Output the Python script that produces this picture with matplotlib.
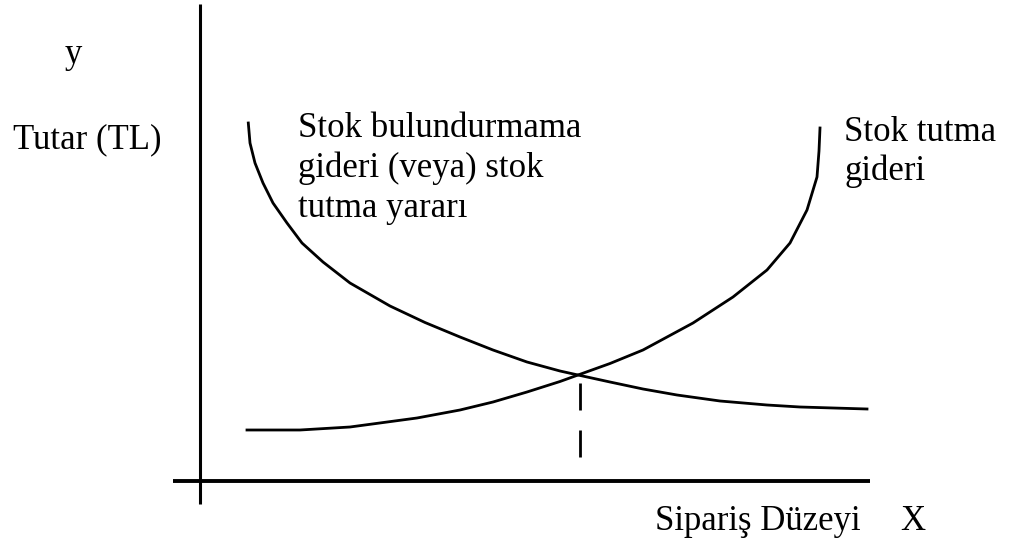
import matplotlib
matplotlib.use("Agg")
import matplotlib.pyplot as plt

plt.rcParams['font.family'] = ['Liberation Serif', 'DejaVu Serif']

# stok bulundurmama gideri (decreasing curve)
dec_x = [4.83, 5.0, 5.5, 6.3, 7.3, 8.7, 10.2, 12.3, 15.0, 19.0, 22.5, 26.0, 29.3,
         32.7, 36.0, 37.8, 41.0, 44.3, 47.7, 52.0, 56.7, 60.0, 66.7]
dec_y = [35.8, 33.8, 31.8, 29.8, 27.8, 25.8, 23.8, 21.9, 19.8, 17.5, 15.85, 14.4, 13.1,
         11.9, 11.0, 10.6, 9.9, 9.2, 8.6, 8.0, 7.6, 7.4, 7.2]

# stok tutma gideri (increasing curve)
inc_x = [4.7, 10.0, 15.0, 21.7, 26.0, 29.3, 32.7, 36.0, 37.8, 41.0, 44.3,
         49.3, 53.3, 56.7, 59.0, 60.7, 61.7, 61.9, 62.0]
inc_y = [5.1, 5.1, 5.4, 6.3, 7.1, 7.9, 8.9, 9.95, 10.6, 11.75, 13.1,
         15.8, 18.4, 21.1, 23.8, 27.1, 30.4, 33.0, 35.3]

# optimum order level, dashed marker below the crossing
opt_x = 38.0
dash_top = [9.8, 5.1]
dash_bot = [7.1, 2.4]

left_label = ["Stok bulundurmama", "gideri (veya) stok", "tutma yararı"]
right_label = ["Stok tutma", "gideri"]

fig = plt.figure(figsize=(10.11, 5.53), dpi=100)
ax = fig.add_axes([0, 0, 1, 1])
ax.set_xlim(-20.0, 81.1)
ax.set_ylim(-7.2, 48.1)
ax.axis('off')

# axes drawn by hand like the scanned figure
ax.plot([0, 0], [-2.3, 47.7], color='black', lw=2.2, solid_capstyle='butt')
ax.plot([-2.7, 67.0], [0, 0], color='black', lw=2.8, solid_capstyle='butt')

ax.plot(dec_x, dec_y, color='black', lw=2.0, solid_joinstyle='round')
ax.plot(inc_x, inc_y, color='black', lw=2.0, solid_joinstyle='round')
ax.vlines([opt_x, opt_x], dash_bot, dash_top, color='black', lw=2.0)

fs = 25
ax.text(-13.5, 41.8, "y", fontsize=fs, va='baseline')
ax.text(-18.7, 33.3, "Tutar (TL)", fontsize=fs, va='baseline')
for i, s in enumerate(left_label):
    ax.text(9.8, 34.4 - 4.0 * i, s, fontsize=fs, va='baseline')
for i, s in enumerate(right_label):
    ax.text(64.4, 34.0 - 3.9 * i, s, fontsize=fs, va='baseline')
ax.text(45.5, -4.9, "Sipariş Düzeyi", fontsize=fs, va='baseline')
ax.text(70.0, -4.9, "X", fontsize=fs, va='baseline')

fig.savefig("out.png", dpi=100, facecolor='white')
